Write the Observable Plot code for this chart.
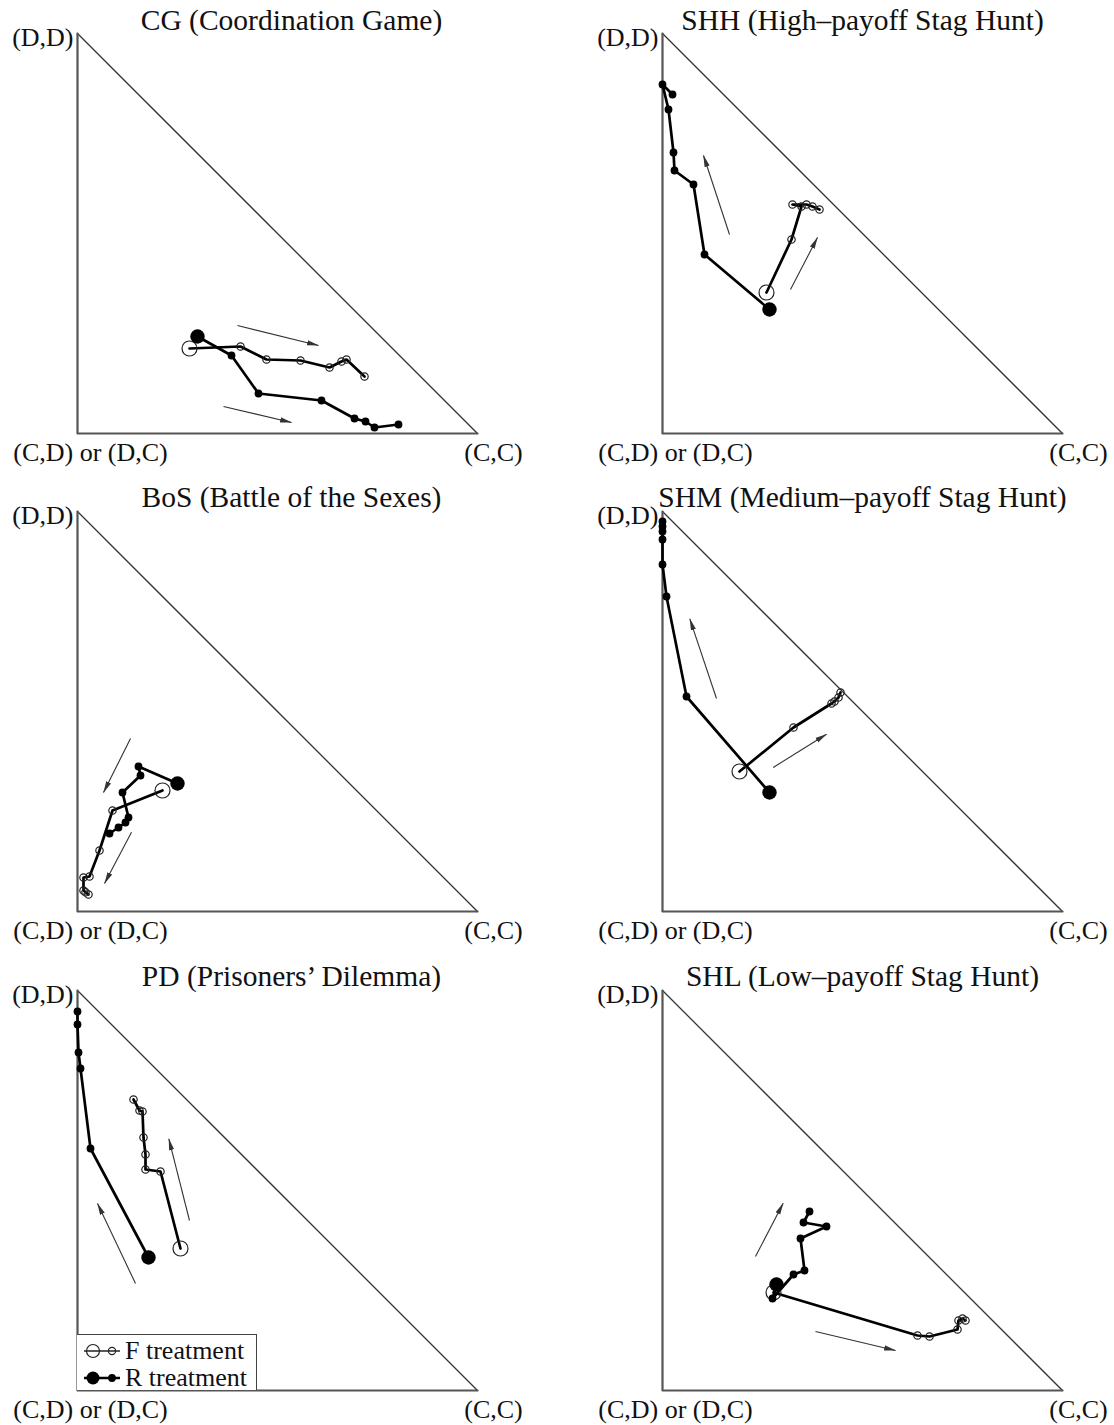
<!DOCTYPE html>
<html>
<head>
<meta charset="utf-8">
<script src="https://cdn.jsdelivr.net/npm/d3@7"></script>
<script src="https://cdn.jsdelivr.net/npm/@observablehq/plot@0.6"></script>
<style>
  body { margin: 0; background: #fff; }
  #wrap { position: relative; width: 1114px; height: 1425px; font-family: "Liberation Serif", "Times New Roman", serif; background: #fff; color: #111; }
  .panel { position: absolute; }
  .legend { position: absolute; left: 77px; top: 1334px; width: 180px; height: 56px; border: 1.5px solid #444; border-left: none; border-bottom: none; background: #fff; font-size: 26px; line-height: 27px; box-sizing: border-box; padding-top: 2px; }
  .legend div { display: flex; align-items: center; height: 27px; }
  .legend svg { margin-left: 4px; margin-right: 4px; }
</style>
</head>
<body>
<div id="wrap"></div>
<script>
// ---- titles and labels ----
const titles = [
  "CG (Coordination Game)",
  "SHH (High\u2013payoff Stag Hunt)",
  "BoS (Battle of the Sexes)",
  "SHM (Medium\u2013payoff Stag Hunt)",
  "PD (Prisoners\u2019 Dilemma)",
  "SHL (Low\u2013payoff Stag Hunt)"
];
const vertexLabels = ["(D,D)", "(C,D) or (D,C)", "(C,C)"];
const legendLabels = ["F treatment", "R treatment"];

// triangle vertices: x = share (C,C), y = share (D,D)
const legsX = [0, 0, 1];
const legsY = [1, 0, 0];
const hypX = [0, 1];
const hypY = [1, 0];

// ---- trajectories [x, y]; first point = first period ----
const CG_F = [[0.28,0.2125],[0.4075,0.2175],[0.4725,0.185],[0.5575,0.1825],[0.63,0.165],[0.66,0.18],[0.6725,0.185],[0.7175,0.1425]];
const CG_R = [[0.30,0.2425],[0.385,0.195],[0.4525,0.10],[0.61,0.0825],[0.6925,0.0375],[0.72,0.03],[0.7425,0.015],[0.8025,0.0225]];
const CG_arrows = [[0.40,0.27,0.6025,0.22],[0.365,0.0675,0.535,0.0275]];

const SHH_F = [[0.26,0.3525],[0.3225,0.485],[0.3475,0.5675],[0.325,0.5725],[0.36,0.5725],[0.375,0.5675],[0.3925,0.56]];
const SHH_R = [[0.2675,0.31],[0.105,0.4475],[0.0775,0.6225],[0.03,0.6575],[0.0275,0.7025],[0.015,0.81],[0.0,0.8725],[0.025,0.8475]];
const SHH_arrows = [[0.1675,0.4975,0.1025,0.695],[0.32,0.36,0.3875,0.49]];

const BoS_F = [[0.2125,0.3025],[0.0875,0.2525],[0.055,0.1525],[0.03,0.0875],[0.015,0.085],[0.015,0.0525],[0.0275,0.0425],[0.02,0.048]];
const BoS_R = [[0.25,0.32],[0.1525,0.3625],[0.1575,0.34],[0.1125,0.2975],[0.1275,0.235],[0.12,0.2225],[0.1025,0.21],[0.08,0.195]];
const BoS_arrows = [[0.1325,0.4325,0.065,0.2975],[0.135,0.198,0.0675,0.07]];

const SHM_F = [[0.1925,0.35],[0.3275,0.46],[0.4225,0.52],[0.43,0.525],[0.44,0.535],[0.445,0.5475]];
const SHM_R = [[0.2675,0.2975],[0.06,0.5375],[0.01,0.7875],[0.0,0.8675],[0.0,0.93],[0.0,0.95],[0.0,0.9625],[0.0,0.975]];
const SHM_arrows = [[0.135,0.5325,0.0683,0.7317],[0.2767,0.36,0.41,0.4433]];

const PD_F = [[0.2575,0.355],[0.2075,0.5475],[0.17,0.5525],[0.17,0.59],[0.165,0.6325],[0.1625,0.6975],[0.155,0.70],[0.14,0.7275]];
const PD_R = [[0.1775,0.3325],[0.0325,0.605],[0.0075,0.805],[0.0025,0.845],[0.0,0.915],[0.0,0.9475]];
const PD_arrows = [[0.145,0.2675,0.05,0.4675],[0.28,0.425,0.2283,0.6292]];

const SHL_F = [[0.2775,0.245],[0.6375,0.1375],[0.6675,0.135],[0.7375,0.1525],[0.74,0.175],[0.75,0.18],[0.7575,0.175]];
const SHL_R = [[0.285,0.265],[0.275,0.23],[0.3275,0.29],[0.355,0.30],[0.345,0.38],[0.41,0.41],[0.3525,0.42],[0.3675,0.4475]];
const SHL_arrows = [[0.2325,0.335,0.3017,0.4683],[0.3825,0.1475,0.5825,0.10]];

const panels = [
  {F: CG_F, R: CG_R, arrows: CG_arrows},
  {F: SHH_F, R: SHH_R, arrows: SHH_arrows},
  {F: BoS_F, R: BoS_R, arrows: BoS_arrows},
  {F: SHM_F, R: SHM_R, arrows: SHM_arrows},
  {F: PD_F, R: PD_R, arrows: PD_arrows},
  {F: SHL_F, R: SHL_R, arrows: SHL_arrows}
];

// filled arrowhead marker
const SVGNS = "http://www.w3.org/2000/svg";
function filledHead(color) {
  const m = document.createElementNS(SVGNS, "marker");
  m.setAttribute("viewBox", "0 -3 12 6");
  m.setAttribute("markerUnits", "userSpaceOnUse");
  m.setAttribute("markerWidth", "12");
  m.setAttribute("markerHeight", "6");
  m.setAttribute("refX", "11.5");
  m.setAttribute("refY", "0");
  m.setAttribute("orient", "auto");
  const path = document.createElementNS(SVGNS, "path");
  path.setAttribute("d", "M0,-2.6L12,0L0,2.6Z");
  path.setAttribute("fill", color || "#222");
  path.setAttribute("stroke", "none");
  m.appendChild(path);
  return m;
}

function arrowMark(arrows) {
  const opts = {x1: d => d[0], y1: d => d[1], x2: d => d[2], y2: d => d[3], stroke: "#333", strokeWidth: 1.1};
  try {
    return Plot.link(arrows, {...opts, markerEnd: filledHead});
  } catch (e) {
    return Plot.arrow(arrows, {...opts, headLength: 11, headAngle: 28});
  }
}

const wrap = document.getElementById("wrap");
const W = 557, H = 478;
const rowTop = [0, 478, 957];

panels.forEach((p, i) => {
  const col = i % 2, row = Math.floor(i / 2);
  const mLeft = col === 0 ? 77 : 105;
  const mRight = W - mLeft - 400;
  const legs = legsX.map((x, k) => ({x, y: legsY[k]}));
  const hyp = hypX.map((x, k) => ({x, y: hypY[k]}));
  const px = d => d[0], py = d => d[1];
  const chart = Plot.plot({
    width: W,
    height: H,
    marginLeft: mLeft,
    marginRight: mRight,
    marginTop: 33,
    marginBottom: H - 33 - 400,
    x: {domain: [0, 1], axis: null},
    y: {domain: [0, 1], axis: null},
    style: {fontFamily: '"Liberation Serif", "Times New Roman", serif', background: "transparent", overflow: "visible", color: "#111"},
    marks: [
      Plot.line(hyp, {x: "x", y: "y", stroke: "#333", strokeWidth: 1.3}),
      Plot.line(legs, {x: "x", y: "y", stroke: "#555", strokeWidth: 2.2}),
      arrowMark(p.arrows),
      Plot.line(p.F, {x: px, y: py, stroke: "#000", strokeWidth: 2.7}),
      Plot.line(p.R, {x: px, y: py, stroke: "#000", strokeWidth: 2.7}),
      Plot.dot(p.F.slice(1), {x: px, y: py, r: 3.7, stroke: "#222", strokeWidth: 1.2, fill: "none"}),
      Plot.dot(p.F.slice(0, 1), {x: px, y: py, r: 7.5, stroke: "#222", strokeWidth: 1.2, fill: "none"}),
      Plot.dot(p.R.slice(1), {x: px, y: py, r: 3.9, fill: "#000", stroke: "none"}),
      Plot.dot(p.R.slice(0, 1), {x: px, y: py, r: 7.2, fill: "#000", stroke: "none"}),
      Plot.text([vertexLabels[0]], {x: legsX[0], y: legsY[0], text: d => d, textAnchor: "end", dx: -4, dy: 4, fontSize: 26, fill: "#111"}),
      Plot.text([vertexLabels[1]], {x: legsX[1], y: legsY[1], text: d => d, dx: 13, dy: 19, fontSize: 26, fill: "#111"}),
      Plot.text([vertexLabels[2]], {x: legsX[2], y: legsY[2], text: d => d, dx: 16, dy: 19, fontSize: 26, fill: "#111"}),
      Plot.text([titles[i]], {frameAnchor: "top", lineAnchor: "middle", text: d => d, dx: col === 0 ? 14 : 0, dy: row === 0 ? -13 : -14, fontSize: 29.5, fill: "#111"})
    ]
  });
  chart.classList.add("panel");
  chart.style.left = (col * W) + "px";
  chart.style.top = rowTop[row] + "px";
  wrap.appendChild(chart);
});

// legend (inside PD panel)
const leg = document.createElement("div");
leg.className = "legend";
leg.innerHTML =
  `<div><svg width="40" height="20"><line x1="3" y1="10" x2="39" y2="10" stroke="#222" stroke-width="1.3"/><circle cx="12" cy="10" r="6.5" fill="none" stroke="#222" stroke-width="1.2"/><circle cx="31" cy="10" r="3.6" fill="none" stroke="#222" stroke-width="1.2"/></svg>${legendLabels[0]}</div>` +
  `<div><svg width="40" height="20"><line x1="3" y1="10" x2="39" y2="10" stroke="#000" stroke-width="2.7"/><circle cx="12" cy="10" r="6.5" fill="#000"/><circle cx="31" cy="10" r="3.9" fill="#000"/></svg>${legendLabels[1]}</div>`;
wrap.appendChild(leg);
</script>
</body>
</html>
